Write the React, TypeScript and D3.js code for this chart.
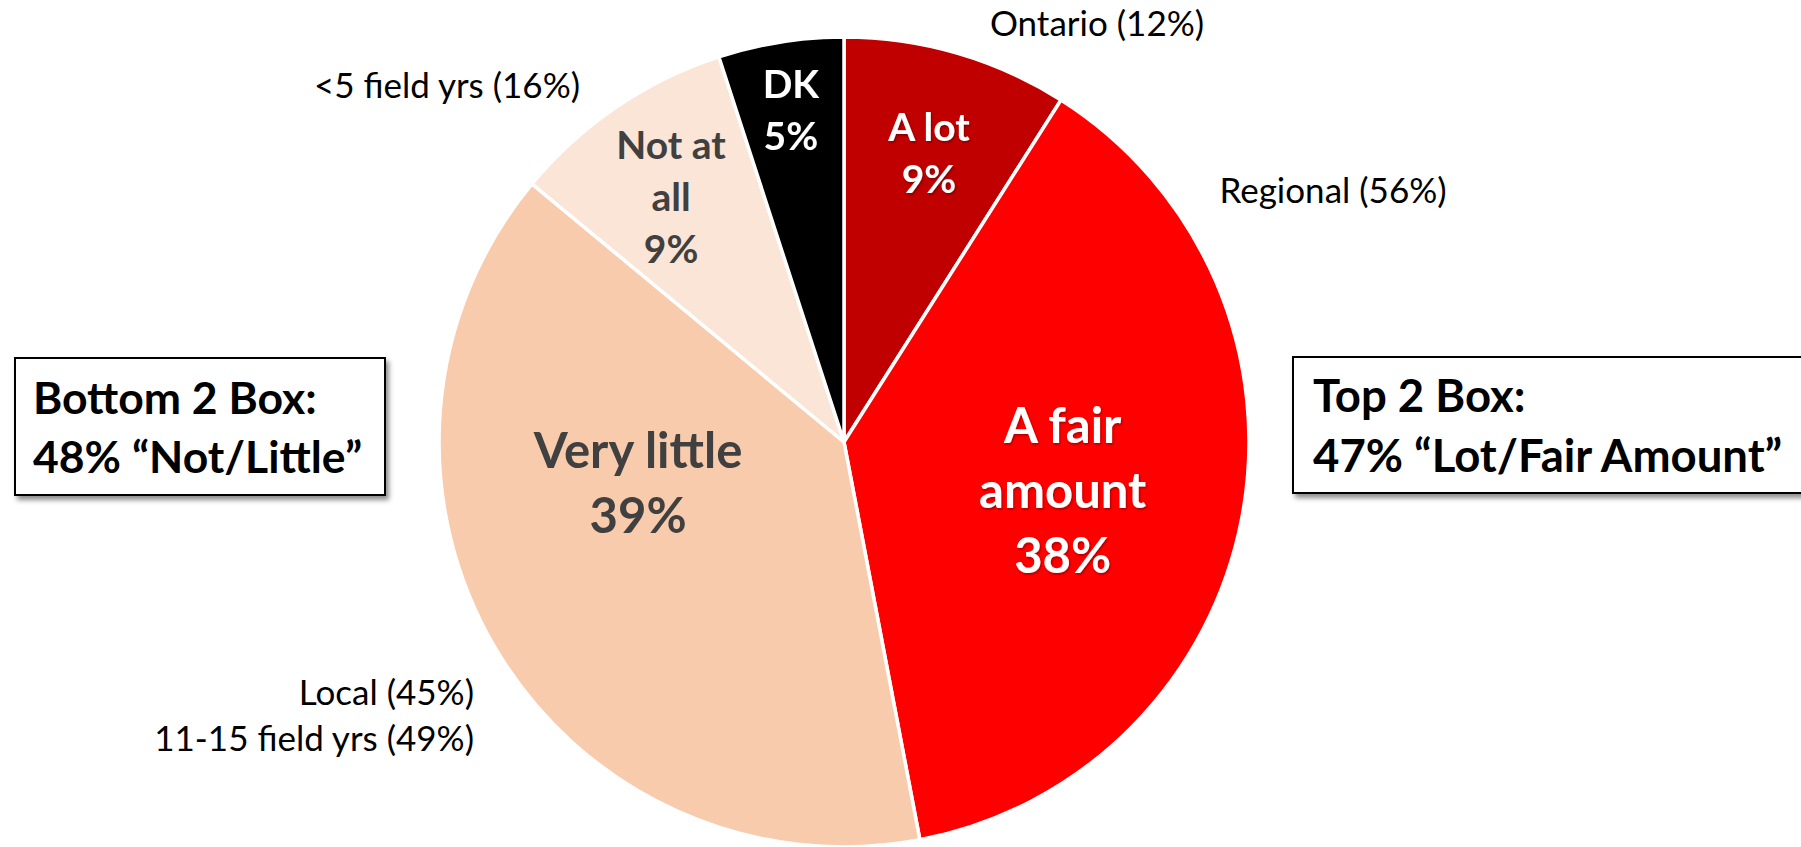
import React from "react";
import * as d3 from "d3";

// ---- data ----
const categories = ["A lot", "A fair amount", "Very little", "Not at all", "DK"];
const categoryLines = [["A lot"], ["A fair", "amount"], ["Very little"], ["Not at", "all"], ["DK"]];
const values = [9, 38, 39, 9, 5];
const sliceColors = ["#C00000", "#FF0000", "#F8CBAD", "#FBE5D6", "#000000"];
const labelColors = ["#FFFFFF", "#FFFFFF", "#404040", "#404040", "#FFFFFF"];

const outerNotes = ["Ontario (12%)", "Regional (56%)", "<5 field yrs (16%)", "Local (45%)", "11-15 field yrs (49%)"];
const bottomBoxLines = ["Bottom 2 Box:", "48% \u201CNot/Little\u201D"];
const topBoxLines = ["Top 2 Box:", "47% \u201CLot/Fair Amount\u201D"];

// ---- layout ----
const W = 1801;
const H = 847;
const CX = 844;
const CY = 442;
const R = 405;
const FONT = "Lato, 'Open Sans', sans-serif";

// label placement: radius and angular shift (deg) from slice mid-angle
const labelPlace = [
  { r: 301, shift: 0.2, size: 39, lh: 52 },
  { r: 224, shift: 1.7, size: 49, lh: 65 },
  { r: 210, shift: 19.3, size: 49, lh: 65 },
  { r: 300, shift: -1.0, size: 39, lh: 52 },
  { r: 336, shift: -0.1, size: 39, lh: 52 },
];

const notePlace = [
  { x: 1097, y: 36, anchor: "middle" },
  { x: 1333, y: 203, anchor: "middle" },
  { x: 447, y: 98, anchor: "middle" },
  { x: 474, y: 705, anchor: "end" },
  { x: 474, y: 751, anchor: "end" },
];

export default function App() {
  const pie = d3
    .pie<number>()
    .sort(null)
    .value((d) => d)
    .startAngle(0)
    .endAngle(2 * Math.PI);
  const arcs = pie(values);
  const arc = d3.arc<d3.PieArcDatum<number>>().innerRadius(0).outerRadius(R);

  return (
    <svg
      width={W}
      height={H}
      style={{ position: "absolute", left: 0, top: 0, background: "#fff" }}
      fontFamily={FONT}
    >
      <defs>
        <filter id="boxShadow" x="-10%" y="-10%" width="130%" height="140%">
          <feDropShadow dx="3" dy="4" stdDeviation="2.5" floodColor="#000" floodOpacity="0.45" />
        </filter>
        <filter id="txtShadow" x="-10%" y="-10%" width="130%" height="130%">
          <feDropShadow dx="1" dy="1.5" stdDeviation="1.2" floodColor="#000" floodOpacity="0.35" />
        </filter>
      </defs>
      <rect x={0} y={0} width={W} height={H} fill="#fff" />

      <g transform={`translate(${CX},${CY})`}>
        {arcs.map((a, i) => (
          <path key={categories[i]} d={arc(a) || ""} fill={sliceColors[i]} stroke="#fff" strokeWidth={3.5} strokeLinejoin="round" />
        ))}
        {arcs.map((a, i) => {
          const p = labelPlace[i];
          const ang = (a.startAngle + a.endAngle) / 2 + (p.shift * Math.PI) / 180;
          const x = Math.sin(ang) * p.r;
          const y = -Math.cos(ang) * p.r;
          const lines = [...categoryLines[i], `${values[i]}%`];
          const cap = p.size * 0.716;
          const first = y - ((lines.length - 1) * p.lh) / 2 + cap / 2;
          return (
            <text
              key={"l" + i}
              textAnchor="middle"
              fontWeight="bold"
              fontSize={p.size}
              fill={labelColors[i]}
              filter={labelColors[i] === "#FFFFFF" ? "url(#txtShadow)" : undefined}
            >
              {lines.map((ln, j) => (
                <tspan key={j} x={x} y={first + j * p.lh}>
                  {ln}
                </tspan>
              ))}
            </text>
          );
        })}
      </g>

      {outerNotes.map((t, i) => (
        <text key={t} x={notePlace[i].x} y={notePlace[i].y} textAnchor={notePlace[i].anchor as any} fontSize={35} fill="#000">
          {t}
        </text>
      ))}

      <g>
        <rect x={15} y={358} width={370} height={137} fill="#fff" stroke="#000" strokeWidth={2} filter="url(#boxShadow)" />
        {bottomBoxLines.map((t, j) => (
          <text key={t} x={33} y={414 + j * 59} fontSize={44.5} fontWeight="bold" fill="#000">
            {t}
          </text>
        ))}
      </g>
      <g>
        <rect x={1293} y={357} width={530} height={136} fill="#fff" stroke="#000" strokeWidth={2} filter="url(#boxShadow)" />
        {topBoxLines.map((t, j) => (
          <text key={t} x={1313} y={412 + j * 60} fontSize={45.5} fontWeight="bold" fill="#000">
            {t}
          </text>
        ))}
      </g>
    </svg>
  );
}
